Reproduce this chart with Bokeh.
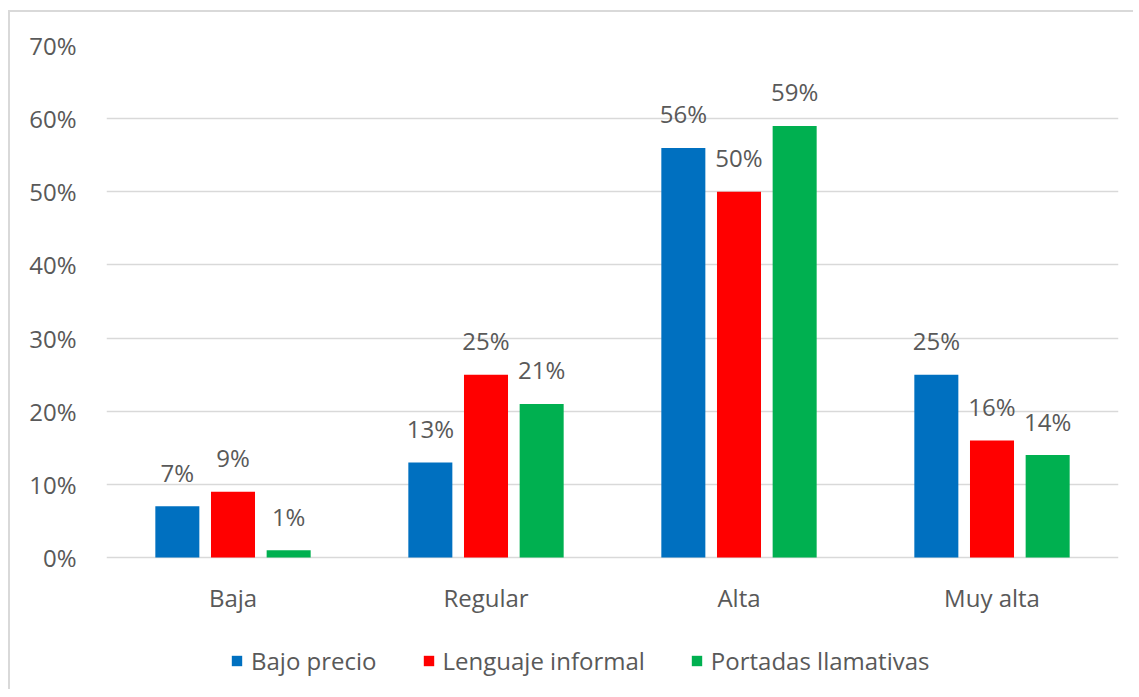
from bokeh.plotting import figure
from bokeh.models import ColumnDataSource, FactorRange, Range1d, PrintfTickFormatter, Legend, LegendItem, FixedTicker
from bokeh.transform import dodge
from bokeh.core.properties import value
from bokeh.embed import file_html
from bokeh.resources import INLINE

categories = ["Baja", "Regular", "Alta", "Muy alta"]
series_names = ["Bajo precio", "Lenguaje informal", "Portadas llamativas"]
bajo_precio = [7, 13, 56, 25]
lenguaje_informal = [9, 25, 50, 16]
portadas_llamativas = [1, 21, 59, 14]
y_ticks = [0, 10, 20, 30, 40, 50, 60, 70]
colors = ["#0070C0", "#FF0000", "#00B050"]

FONT = "Open Sans"
TXT = "#595959"

src = ColumnDataSource(dict(
    cat=categories,
    base=[0] * len(categories),
    s0=bajo_precio,
    s1=lenguaje_informal,
    s2=portadas_llamativas,
    l0=[f"{v}%" for v in bajo_precio],
    l1=[f"{v}%" for v in lenguaje_informal],
    l2=[f"{v}%" for v in portadas_llamativas],
))

# the frame extends below 0 to hold category labels and legend
p = figure(x_range=FactorRange(*categories, range_padding=0), y_range=Range1d(-18.05, 70),
           frame_width=1012, frame_height=644, output_backend="svg", toolbar_location=None,
           min_border_left=96, min_border_right=15, min_border_top=33, min_border_bottom=0)
p.margin = (10, 0, 0, 8)
p.styles = {"border-top": "2px solid #d9d9d9", "border-left": "2px solid #d9d9d9"}
p.outline_line_color = None
p.background_fill_color = "white"
p.border_fill_color = "white"

p.xaxis.visible = False
p.xgrid.grid_line_color = None
p.ygrid.grid_line_color = "#d9d9d9"
p.ygrid.grid_line_width = 1.5
p.yaxis.ticker = FixedTicker(ticks=y_ticks)
p.yaxis.formatter = PrintfTickFormatter(format="%d%%")
p.yaxis.axis_line_color = None
p.yaxis.major_tick_line_color = None
p.yaxis.minor_tick_line_color = None
p.yaxis.major_label_text_font = FONT
p.yaxis.major_label_text_font_size = "24px"
p.yaxis.major_label_text_color = TXT
p.yaxis.major_label_standoff = 24

# category labels under the 0% line
p.text(x="cat", y="base", text="cat", source=src, text_align="center",
       text_baseline="middle", y_offset=40, text_font=value(FONT),
       text_font_size="24px", text_color=TXT)

offsets = [-0.22, 0.0, 0.22]
items = []
for i, off in enumerate(offsets):
    r = p.vbar(x=dodge("cat", off, range=p.x_range), top=f"s{i}", width=0.174,
               source=src, fill_color=colors[i], line_color=None)
    p.text(x=dodge("cat", off, range=p.x_range), y=f"s{i}", text=f"l{i}", source=src,
           text_align="center", text_baseline="alphabetic", y_offset=-34,
           text_font=value(FONT), text_font_size="24px", text_color=TXT)
    items.append(LegendItem(label=series_names[i], renderers=[r]))

legend = Legend(items=items, orientation="horizontal", location=(124, 12),
                glyph_width=13, glyph_height=13, label_standoff=8, spacing=45,
                label_text_font=FONT, label_text_font_size="24px", label_text_color=TXT,
                border_line_color=None, background_fill_alpha=0, padding=0, margin=0)
p.add_layout(legend, "center")

open("out.html", "w").write(file_html(p, INLINE))
